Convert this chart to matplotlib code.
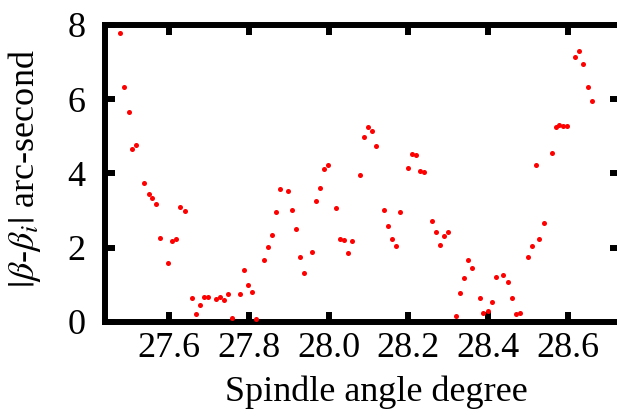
import matplotlib.pyplot as plt
import numpy as np

plt.rcParams['font.family'] = 'Liberation Serif'
plt.rcParams['mathtext.fontset'] = 'stix'

fontsize = 26
spine_w = 4.3

angle = [27.479, 27.489, 27.500, 27.508, 27.519, 27.539, 27.550, 27.558, 27.569,
         27.578, 27.598, 27.608, 27.619, 27.629, 27.640, 27.658, 27.668, 27.679,
         27.688, 27.698, 27.719, 27.729, 27.739, 27.749, 27.759, 27.779, 27.788,
         27.799, 27.809, 27.819, 27.839, 27.849, 27.859, 27.869, 27.878, 27.899,
         27.909, 27.919, 27.928, 27.938, 27.959, 27.968, 27.978, 27.988, 27.999,
         28.019, 28.029, 28.039, 28.049, 28.059, 28.079, 28.089, 28.099, 28.110,
         28.119, 28.140, 28.150, 28.160, 28.169, 28.179, 28.200, 28.208, 28.219,
         28.229, 28.239, 28.259, 28.269, 28.280, 28.289, 28.298, 28.318, 28.329,
         28.338, 28.349, 28.359, 28.379, 28.388, 28.399, 28.409, 28.420, 28.438,
         28.449, 28.459, 28.470, 28.480, 28.499, 28.509, 28.519, 28.528, 28.539,
         28.559, 28.569, 28.578, 28.588, 28.598, 28.618, 28.628, 28.638, 28.649,
         28.659]
diff = [7.78, 6.32, 5.66, 4.66, 4.76, 3.73, 3.45, 3.35, 3.19,
        2.25, 1.59, 2.17, 2.23, 3.11, 2.98, 0.65, 0.21, 0.47,
        0.68, 0.67, 0.62, 0.68, 0.59, 0.75, 0.11, 0.75, 1.41,
        0.99, 0.81, 0.08, 1.68, 2.02, 2.35, 2.95, 3.57, 3.54,
        3.01, 2.51, 1.76, 1.32, 1.89, 3.26, 3.62, 4.12, 4.23,
        3.08, 2.23, 2.21, 1.86, 2.18, 3.96, 4.99, 5.25, 5.15,
        4.73, 3.01, 2.59, 2.24, 2.05, 2.95, 4.16, 4.53, 4.51,
        4.08, 4.04, 2.72, 2.43, 2.07, 2.31, 2.42, 0.15, 0.78,
        1.19, 1.66, 1.45, 0.64, 0.25, 0.29, 0.53, 1.22, 1.27,
        1.09, 0.65, 0.21, 0.23, 1.76, 2.04, 4.22, 2.23, 2.67,
        4.55, 5.25, 5.31, 5.27, 5.27, 7.13, 7.30, 6.96, 6.32,
        5.95]

xticks = [27.6, 27.8, 28.0, 28.2, 28.4, 28.6]
yticks = [0, 2, 4, 6, 8]

fig = plt.figure(figsize=(6.17, 4.16), dpi=100)
ax = fig.add_axes([0.170, 0.226, 0.835, 0.714])
ax.scatter(angle, diff, s=13, color='red', linewidths=0, zorder=3)

ax.set_xlim(27.44, 28.73)
ax.set_ylim(0, 8)
ax.set_xticks(xticks)
ax.set_xticklabels(['%.1f' % t for t in xticks], fontsize=fontsize)
ax.set_yticks(yticks)
ax.set_yticklabels([str(t) for t in yticks], fontsize=fontsize)
ax.tick_params(axis='both', direction='in', length=7, width=spine_w,
               top=True, right=True)
ax.tick_params(axis='x', pad=7)
ax.tick_params(axis='y', pad=14)
for s in ax.spines.values():
    s.set_linewidth(spine_w)

ax.set_xlabel('Spindle angle degree', fontsize=fontsize)
ax.set_ylabel(r'$|\beta$-$\beta_i|$ arc-second', fontsize=fontsize)
ax.xaxis.set_label_coords(0.526, -0.18)
ax.yaxis.set_label_coords(-0.12, 0.517)

fig.savefig('out.png', dpi=100)
